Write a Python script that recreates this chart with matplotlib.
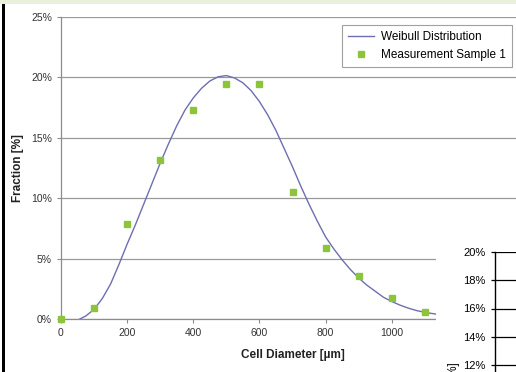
import matplotlib
matplotlib.use("Agg")
import matplotlib.pyplot as plt
from matplotlib.patches import Rectangle
from matplotlib.ticker import FuncFormatter

plt.rcParams["font.family"] = ["Liberation Sans", "DejaVu Sans"]

# measured points (fraction in %)
diametro_medido = [0, 100, 200, 300, 400, 500, 600, 700, 800, 900, 1000, 1100]
fraccion_medida = [0.0, 0.9, 7.9, 13.2, 17.3, 19.45, 19.45, 10.5, 5.9, 3.6, 1.7, 0.6]

# Weibull curve, every 25 um
diametro_curva = [57, 75, 100, 125, 150, 175, 200, 225, 250, 275, 300, 325, 350, 375,
                  400, 425, 450, 475, 500, 525, 550, 575, 600, 625, 650, 675, 700,
                  725, 750, 775, 800, 825, 850, 875, 900, 925, 950, 975, 1000, 1025,
                  1050, 1075, 1100, 1135]
fraccion_curva = [0.0, 0.25, 0.8, 1.7, 2.9, 4.5, 6.2, 7.8, 9.5, 11.2, 12.9, 14.5, 16.0, 17.3,
                  18.3, 19.1, 19.7, 20.05, 20.15, 19.95, 19.55, 18.9, 18.0, 16.9, 15.6, 14.1, 12.6,
                  11.0, 9.5, 8.1, 6.8, 5.8, 4.9, 4.1, 3.4, 2.8, 2.3, 1.8, 1.45, 1.15,
                  0.9, 0.7, 0.55, 0.4]

# ticks further right are hidden under the second chart
ticks_x = [0, 200, 400, 600, 800, 1000]
ticks_y = [0, 5, 10, 15, 20, 25]
ticks_y2 = [0, 2, 4, 6, 8, 10, 12, 14, 16, 18, 20]

W, H = 516, 372
pct = FuncFormatter(lambda v, _: f"{v:.0f}%")

fig = plt.figure(figsize=(W / 100, H / 100), dpi=100)
fig.patch.set_facecolor("white")

# main chart
ax = fig.add_axes([61 / W, 53 / H, 463 / W, 302 / H], zorder=0)
ax.set_xlim(0, 1400)
ax.set_ylim(0, 25)
ax.set_xticks(ticks_x)
ax.set_yticks(ticks_y)
ax.yaxis.set_major_formatter(pct)
ax.grid(axis="y", color="#9a9a9a", linewidth=0.9)
ax.set_axisbelow(True)
for s in ["top", "right"]:
    ax.spines[s].set_visible(False)
for s in ["left", "bottom"]:
    ax.spines[s].set_color("#8c8c8c")
    ax.spines[s].set_linewidth(0.9)
ax.tick_params(colors="#8c8c8c", labelcolor="#333333", labelsize=7.5, length=3, width=0.8)

ax.plot(diametro_curva, fraccion_curva, color="#6e6eb0", linewidth=1.0,
        label="Weibull Distribution", zorder=3)
ax.plot(diametro_medido, fraccion_medida, linestyle="none", marker="s", markersize=5,
        color="#8cc43c", label="Measurement Sample 1", clip_on=False, zorder=4)

ax.set_xlabel("Cell Diameter [µm]", fontsize=8.5, fontweight="bold", color="#222222", labelpad=8)
ax.set_ylabel("Fraction [%]", fontsize=8.5, fontweight="bold", color="#222222", labelpad=5)

leg = ax.legend(loc="upper right", bbox_to_anchor=(512 / W, 1 - 25 / H),
                bbox_transform=fig.transFigure, borderaxespad=0, fontsize=8.5,
                frameon=True, fancybox=False, edgecolor="#888888", handlelength=2.2,
                borderpad=0.5, labelspacing=0.5, handletextpad=0.6)
leg.get_frame().set_linewidth(0.8)

# top strip and left border of the page
fig.patches.append(Rectangle((0, 1 - 4 / H), 1, 4 / H, transform=fig.transFigure,
                             facecolor="#e9f1dc", edgecolor="none", zorder=1))
fig.patches.append(Rectangle((2 / W, 0), 3 / W, 1 - 4 / H, transform=fig.transFigure,
                             facecolor="black", edgecolor="none", zorder=1))

# second chart, partly covering the first
fig.patches.append(Rectangle((436 / W, 0), 80 / W, 134 / H, transform=fig.transFigure,
                             facecolor="white", edgecolor="none", zorder=1))
ax2 = fig.add_axes([495 / W, -162.5 / H, 40 / W, 282.5 / H], zorder=2)
ax2.set_ylim(0, 20)
ax2.set_xlim(0, 1)
ax2.set_yticks(ticks_y2)
ax2.set_xticks([])
ax2.yaxis.set_major_formatter(pct)
ax2.grid(axis="y", color="black", linewidth=0.9)
for s in ["top", "right", "bottom"]:
    ax2.spines[s].set_visible(False)
ax2.spines["left"].set_linewidth(1.0)
ax2.tick_params(axis="y", labelsize=8, length=3, width=0.9, pad=4)
ax2.set_ylabel("Fraction [%]", fontsize=8.5, labelpad=2)

fig.savefig("out.png", dpi=100)
